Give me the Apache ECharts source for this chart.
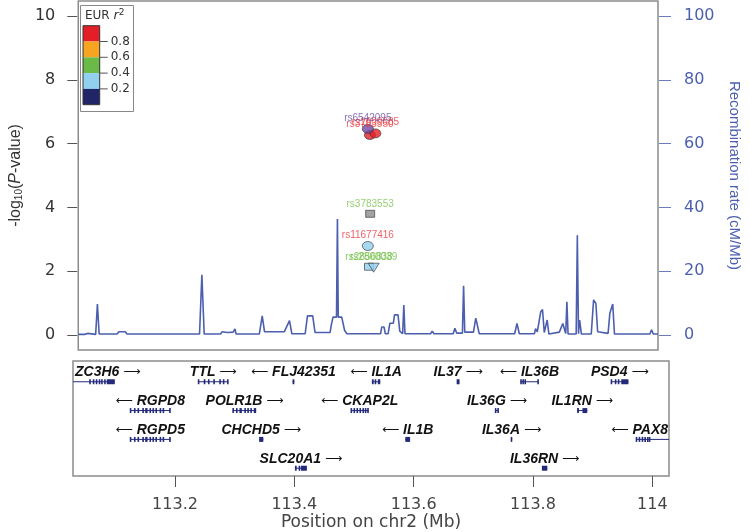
<!DOCTYPE html>
<html>
<head>
<meta charset="utf-8">
<script src="https://cdn.jsdelivr.net/npm/echarts@6/dist/echarts.min.js"></script>
<style>html,body{margin:0;padding:0;background:#fff}#c{width:750px;height:532px}</style>
</head>
<body>
<div id="c"></div>
<script>
// ---------------- data ----------------
const xTicks = [113.2, 113.4, 113.6, 113.8, 114];
const pTicks = [0, 2, 4, 6, 8, 10];
const recTicks = [0, 20, 40, 60, 80, 100];

// r2 legend
const r2Breaks = [0.2, 0.4, 0.6, 0.8];
const r2Colors = ['#1F2566', '#92D0F0', '#6BB947', '#F7A420', '#E41E26'];
const missingColor = '#8C8C8C';
const indexColor = '#7048A6';

// SNPs
const snpNames = ['rs11677416', 'rs3783553', 'rs2856838', 'rs2800039', 'rs3783550', 'rs1609685', 'rs6542095'];
const snpPos   = [113.528, 113.532, 113.530, 113.538, 113.5316, 113.541, 113.528];
const snpLogP  = [2.79, 3.80, 2.14, 2.11, 6.27, 6.32, 6.46];
const snpR2    = [0.30, null, 0.30, 0.30, 0.90, 0.90, 1.0];
const snpIsIndex = [false, false, false, false, false, false, true];
const snpShape = ['circle', 'rect', 'rect', 'triangleDown', 'circle', 'circle', 'circle'];
const snpLabelColor = ['#E8383F', '#7CC24E', '#6FBE45', '#6FBE45', '#E8383F', '#E8383F', '#6A4FA6'];

// recombination rate (cM/Mb)
const recPos = [113.029,113.040,113.045,113.048,113.059,113.062,113.065,113.096,113.099,113.110,113.113,113.238,113.242,113.246,113.274,113.277,113.280,113.286,113.296,113.299,113.301,113.341,113.346,113.350,113.384,113.393,113.397,113.420,113.424,113.433,113.437,113.452,113.454,113.457,113.463,113.465,113.468,113.474,113.4756,113.477,113.483,113.488,113.492,113.505,113.507,113.509,113.520,113.522,113.524,113.550,113.552,113.556,113.558,113.563,113.566,113.572,113.574,113.580,113.583,113.588,113.590,113.592,113.636,113.639,113.642,113.656,113.658,113.661,113.675,113.678,113.681,113.691,113.693,113.695,113.710,113.714,113.717,113.720,113.726,113.728,113.730,113.781,113.785,113.789,113.802,113.804,113.806,113.815,113.817,113.820,113.826,113.829,113.832,113.834,113.837,113.840,113.858,113.864,113.867,113.869,113.871,113.873,113.887,113.889,113.891,113.893,113.896,113.913,113.917,113.921,113.924,113.942,113.945,113.948,113.950,113.953,113.988,113.991,113.994,114.014,114.017,114.020,114.028];
const recRate = [0.2,0.2,0.5,0.2,0.2,9.7,0.3,0.3,1.0,1.0,0.3,0.3,18.9,0.3,0.3,1.0,0.4,0.8,0.9,1.9,0.3,0.3,6.0,1.0,1.0,4.5,0.4,0.4,6.0,6.0,0.8,0.8,1.0,0.8,0.8,3.1,5.6,5.6,36.4,5.6,5.6,1.4,0.4,0.4,1.0,0.4,0.4,1.0,0.4,0.4,2.5,2.5,0.4,0.4,3.7,3.7,6.3,6.3,1.2,0.4,9.4,0.4,0.4,1.2,0.4,0.4,0.9,0.4,0.4,2.1,0.6,0.6,15.4,0.9,0.9,5.3,5.3,0.4,0.4,0.9,0.4,0.4,3.6,0.4,0.4,0.9,0.4,0.4,2.0,1.0,7.3,8.0,0.8,0.9,4.7,0.3,0.9,3.6,3.6,0.5,10.4,0.3,0.3,31.3,0.4,4.7,0.3,0.3,11.0,9.9,1.0,0.5,6.8,6.8,9.7,0.3,0.3,0.9,0.3,0.3,1.6,0.3,0.3];

// genes
const geneNames  = ['ZC3H6','TTL','FLJ42351','IL1A','IL37','IL36B','PSD4','RGPD8','POLR1B','CKAP2L','IL36G','IL1RN','RGPD5','CHCHD5','IL1B','IL36A','PAX8','SLC20A1','IL36RN'];
const geneStart  = [113.020,113.239,113.397,113.530,113.673,113.779,113.931,113.125,113.297,113.495,113.737,113.874,113.125,113.341,113.586,113.763,113.973,113.401,113.815];
const geneEnd    = [113.099,113.289,113.400,113.544,113.676,113.809,113.960,113.192,113.336,113.524,113.742,113.891,113.192,113.348,113.594,113.765,114.060,113.421,113.824];
const geneStrand = [1,1,-1,-1,1,-1,1,-1,1,-1,1,1,-1,1,-1,1,-1,1,1];
const geneRow    = [0,0,0,0,0,0,0,1,1,1,1,1,2,2,2,2,2,3,3];
const geneExons  = [
  [[113.057,113.058],[113.063,113.064],[113.068,113.069],[113.073,113.074],[113.077,113.078],[113.082,113.083],[113.0855,113.099]],
  [[113.239,113.240],[113.249,113.250],[113.256,113.257],[113.265,113.266],[113.275,113.276],[113.281,113.282],[113.288,113.289]],
  [[113.397,113.400]],
  [[113.530,113.533],[113.535,113.537],[113.540,113.544]],
  [[113.673,113.6738],[113.6752,113.676]],
  [[113.779,113.781],[113.783,113.784],[113.786,113.788],[113.8082,113.809]],
  [[113.931,113.932],[113.938,113.939],[113.943,113.944],[113.948,113.960]],
  [[113.125,113.126],[113.132,113.133],[113.138,113.139],[113.146,113.147],[113.150,113.154],[113.158,113.159],[113.163,113.164],[113.168,113.169],[113.175,113.176],[113.180,113.181],[113.191,113.192]],
  [[113.297,113.298],[113.303,113.304],[113.308,113.312],[113.317,113.318],[113.322,113.323],[113.327,113.328],[113.332,113.336]],
  [[113.495,113.496],[113.500,113.501],[113.505,113.506],[113.510,113.511],[113.515,113.516],[113.519,113.520],[113.523,113.524]],
  [[113.737,113.7378],[113.7412,113.742]],
  [[113.874,113.877],[113.883,113.891]],
  [[113.125,113.126],[113.132,113.133],[113.138,113.139],[113.146,113.147],[113.150,113.154],[113.158,113.159],[113.163,113.164],[113.168,113.169],[113.175,113.176],[113.180,113.181],[113.191,113.192]],
  [[113.341,113.348]],
  [[113.586,113.594]],
  [[113.763,113.765]],
  [[113.973,113.974],[113.978,113.979],[113.983,113.984],[113.987,113.989],[113.992,113.993],[113.995,113.996]],
  [[113.401,113.404],[113.408,113.409],[113.411,113.421]],
  [[113.815,113.824]]
];

// ---------------- helpers ----------------
function r2Color(r2, isIndex) {
  if (isIndex) return indexColor;
  if (r2 === null || r2 === undefined) return missingColor;
  let k = 0;
  while (k < r2Breaks.length && r2 >= r2Breaks[k]) k++;
  return r2Colors[k];
}
const geneFont = 'italic bold 14px "Liberation Sans", Arial, sans-serif';
const arrowFont = '12px "DejaVu Sans", sans-serif';
const measureCtx = document.createElement('canvas').getContext('2d');
function textWidth(t, font) { measureCtx.font = font; return measureCtx.measureText(t).width; }

const X_MIN = 113.029, X_MAX = 114.028;
const axisGrey = '#555';
const recBlue = '#4C5FAF';
const numFont = '"DejaVu Sans", sans-serif';

const snpData = snpNames.map((n, i) => ({
  name: n,
  value: [snpPos[i], snpLogP[i]],
  symbol: snpShape[i] === 'triangleDown' ? 'triangle' : snpShape[i],
  symbolRotate: snpShape[i] === 'triangleDown' ? 180 : 0,
  symbolSize: snpShape[i] === 'circle' ? [11, 9] : (snpShape[i] === 'rect' ? [9, 7] : [11, 9]),
  itemStyle: { color: r2Color(snpR2[i], snpIsIndex[i]), borderColor: '#333', borderWidth: 0.8 },
  label: { show: true, formatter: n, color: snpLabelColor[i] }
}));

// legend graphic
const lgX = 83, lgTop = 25.7, lgW = 16.7, lgH = 15.8;
const legendEls = [];
legendEls.push({ type: 'rect', shape: { x: 80.5, y: 5.5, width: 53, height: 106 }, style: { fill: '#fff', stroke: '#888', lineWidth: 1 }, z: 10 });
legendEls.push({ type: 'text', style: { text: 'EUR {it|r}{sup|2}', x: 85, y: 16, verticalAlign: 'middle', font: '12px "DejaVu Sans", sans-serif', fill: '#333',
  rich: { it: { fontStyle: 'italic', fontSize: 13, fontFamily: 'DejaVu Sans', fill: '#333' }, sup: { fontSize: 9, verticalAlign: 'top', fontFamily: 'DejaVu Sans', fill: '#333', padding: [0, 0, 6, 0] } } }, z: 11 });
for (let k = 0; k < r2Colors.length; k++) {
  const c = r2Colors[r2Colors.length - 1 - k];
  legendEls.push({ type: 'rect', shape: { x: lgX, y: lgTop + k * lgH, width: lgW, height: lgH }, style: { fill: c, stroke: null }, z: 11 });
}
legendEls.push({ type: 'rect', shape: { x: lgX, y: lgTop, width: lgW, height: lgH * 5 }, style: { fill: null, stroke: '#333', lineWidth: 1 }, z: 12 });
r2Breaks.slice().reverse().forEach((b, k) => {
  const yy = lgTop + (k + 1) * lgH;
  legendEls.push({ type: 'line', shape: { x1: lgX + lgW, y1: yy, x2: lgX + lgW + 8, y2: yy }, style: { stroke: '#555', lineWidth: 1 }, z: 12 });
  legendEls.push({ type: 'text', style: { text: b.toFixed(1), x: lgX + lgW + 11, y: yy, verticalAlign: 'middle', font: '12px "DejaVu Sans", sans-serif', fill: '#333' }, z: 12 });
});

function renderGene(params, api) {
  const i = api.value(0);
  const cs = params.coordSys;
  const row = geneRow[i];
  const p0 = api.coord([geneStart[i], row]);
  const p1 = api.coord([geneEnd[i], row]);
  const y = p0[1];
  const left = cs.x, right = cs.x + cs.width;
  const x0 = Math.max(left, p0[0]), x1 = Math.min(right, p1[0]);
  const color = '#232A7A';
  const children = [];
  children.push({ type: 'line', shape: { x1: x0, y1: y, x2: x1, y2: y }, style: { stroke: color, lineWidth: 1 } });
  geneExons[i].forEach(e => {
    const a = api.coord([e[0], row])[0], b = api.coord([e[1], row])[0];
    let w = b - a, xa = a;
    if (w < 1.6) { xa = a - (1.6 - w) / 2; w = 1.6; }
    children.push({ type: 'rect', shape: { x: xa, y: y - 2.5, width: w, height: 5 }, style: { fill: color } });
  });
  const arrow = geneStrand[i] > 0 ? '\u27F6' : '\u27F5';
  const label = geneStrand[i] > 0 ? geneNames[i] + ' {a|' + arrow + '}' : '{a|' + arrow + '} ' + geneNames[i];
  const tw = textWidth(geneNames[i] + ' ', geneFont) + textWidth(arrow, arrowFont);
  let cx = (p0[0] + p1[0]) / 2;
  if (p0[0] < left || p1[0] > right) cx = (x0 + x1) / 2;
  if (cx - tw / 2 < left + 2) cx = left + 2 + tw / 2;
  if (cx + tw / 2 > right - 1) cx = right - 1 - tw / 2;
  children.push({ type: 'text', style: { text: label, x: cx, y: y - 9.5, align: 'center', verticalAlign: 'middle', font: geneFont, fill: '#111',
    rich: { a: { fontSize: 12, fontFamily: 'DejaVu Sans', fontStyle: 'normal', fontWeight: 'normal', fill: '#111' } } } });
  return { type: 'group', children };
}

const chart = echarts.init(document.getElementById('c'), null, { renderer: 'canvas' });
chart.setOption({
  animation: false,
  backgroundColor: '#fff',
  grid: [
    { left: 73, right: 81, top: 1, height: 349, show: true, borderColor: '#8C8C8C', borderWidth: 1.5, backgroundColor: 'transparent' },
    { left: 73, right: 81, top: 361, height: 115, show: true, borderColor: '#8C8C8C', borderWidth: 1.5, backgroundColor: 'transparent' }
  ],
  xAxis: [
    { type: 'value', gridIndex: 0, min: X_MIN, max: X_MAX, show: false, axisLine: { onZero: false } },
    { type: 'value', gridIndex: 1, min: X_MIN, max: X_MAX, position: 'bottom',
      axisLine: { show: false, onZero: false }, splitLine: { show: false },
      axisTick: { show: true, length: 11, customValues: xTicks, lineStyle: { color: axisGrey, width: 1 } },
      axisLabel: { customValues: xTicks, margin: 21, color: '#444', fontSize: 16, fontFamily: numFont, formatter: v => String(v) },
      name: 'Position on chr2 (Mb)', nameLocation: 'middle', nameGap: 37,
      nameTextStyle: { color: '#444', fontSize: 17, fontFamily: numFont } }
  ],
  yAxis: [
    { type: 'value', gridIndex: 0, min: -0.47, max: 10.47, offset: 1,
      axisLine: { show: false, onZero: false }, splitLine: { show: false },
      axisTick: { show: true, length: 10, customValues: pTicks, lineStyle: { color: axisGrey, width: 1 } },
      axisLabel: { customValues: pTicks, margin: 22, color: '#333', fontSize: 16, fontFamily: numFont },
      name: '-log{sub|10}({it|P}-value)', nameLocation: 'middle', nameGap: 52, nameRotate: 90,
      nameTextStyle: { color: '#333', fontSize: 16, fontFamily: 'Liberation Sans',
        rich: { sub: { fontSize: 10, fontFamily: 'Liberation Sans', color: '#333', verticalAlign: 'bottom', lineHeight: 16 },
                it: { fontSize: 16, fontStyle: 'italic', fontFamily: 'Liberation Sans', color: '#333' } } } },
    { type: 'value', gridIndex: 0, min: -4.7, max: 104.7, position: 'right', offset: 1,
      axisLine: { show: false, onZero: false }, splitLine: { show: false },
      axisTick: { show: true, length: 12, customValues: recTicks, lineStyle: { color: '#6B7BBE', width: 1 } },
      axisLabel: { customValues: recTicks, margin: 25, color: recBlue, fontSize: 16, fontFamily: numFont },
      name: 'Recombination rate (cM/Mb)', nameLocation: 'middle', nameGap: 68, nameRotate: -90,
      nameTextStyle: { color: recBlue, fontSize: 15, fontFamily: 'Liberation Sans' } },
    { type: 'value', gridIndex: 1, min: -0.72, max: 3.27, inverse: true, show: false, axisLine: { onZero: false } }
  ],
  series: [
    { type: 'line', xAxisIndex: 0, yAxisIndex: 1, data: recPos.map((p, i) => [p, recRate[i]]),
      showSymbol: false, symbol: 'none', lineStyle: { color: recBlue, width: 1.6 }, z: 2, silent: true },
    { type: 'scatter', xAxisIndex: 0, yAxisIndex: 0, data: snpData, z: 5,
      label: { show: true, position: 'top', distance: 1, fontSize: 10, fontFamily: 'Liberation Sans' } },
    { type: 'custom', xAxisIndex: 1, yAxisIndex: 2, renderItem: renderGene,
      data: geneNames.map((n, i) => [i, geneStart[i], geneRow[i]]), encode: { x: 1, y: 2 }, z: 3 }
  ],
  graphic: legendEls
});
</script>
</body>
</html>
